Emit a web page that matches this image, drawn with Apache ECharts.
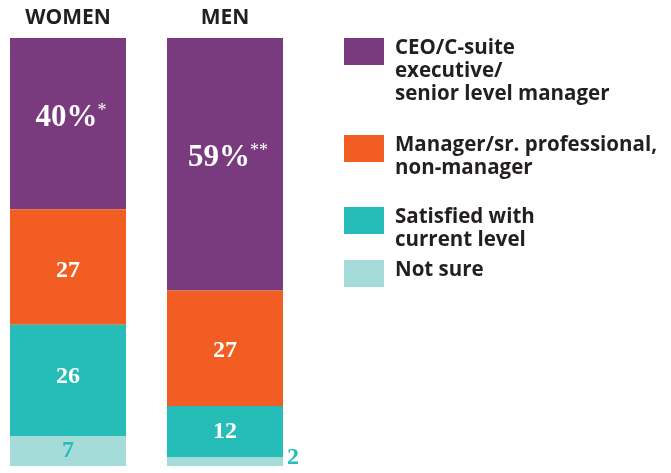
<!DOCTYPE html>
<html>
<head>
<meta charset="utf-8">
<script src="https://cdn.jsdelivr.net/npm/echarts@6/dist/echarts.min.js"></script>
<style>
  html, body { margin: 0; padding: 0; background: #fff; }
  #chart { width: 671px; height: 473px; }
</style>
</head>
<body>
<div id="chart"></div>
<script>
    // data
    var groups = ['WOMEN', 'MEN'];
    var seriesNames = ['CEO/C-suite executive/senior level manager', 'Manager/sr. professional, non-manager', 'Satisfied with current level', 'Not sure'];
    var legendLabels = ['CEO/C-suite\nexecutive/\nsenior level manager', 'Manager/sr. professional,\nnon-manager', 'Satisfied with\ncurrent level', 'Not sure'];
    var ceoValues = [40, 59];
    var managerValues = [27, 27];
    var satisfiedValues = [26, 12];
    var notSureValues = [7, 2];
    var footnoteMarks = ['*', '**'];

    var colors = ['#7a3a7e', '#f15d23', '#26bcb7', '#a5dbd8'];
    var serifFont = '"Liberation Serif", serif';
    var sansFont = '"Open Sans", sans-serif';

    var myChart = echarts.init(document.getElementById('chart'));

    function smallLabel(color) {
        return {
            show: true,
            position: 'inside',
            color: color,
            fontFamily: serifFont,
            fontWeight: 'bold',
            fontSize: 24
        };
    }

    // nudge a label up/down inside its segment
    function withOffset(values, dy) {
        return values.map(function (v, i) {
            return { value: v, label: { offset: [0, dy[i]] } };
        });
    }

    var ceoData = ceoValues.map(function (v, i) {
        return {
            value: v,
            label: {
                formatter: '{a|' + v + '%}{b|' + footnoteMarks[i] + '}'
            }
        };
    });

    var notSureData = notSureValues.map(function (v, i) {
        if (i === 1) {
            // tiny segment: label sits outside, right of the bar
            return { value: v, label: { position: 'right', distance: 4, offset: [0, -4] } };
        }
        return v;
    });

    // legend drawn by hand so the box lines up with the first text line
    var legendTops = [38, 135, 207, 260];
    var legendGraphics = [];
    legendLabels.forEach(function (txt, i) {
        legendGraphics.push({
            type: 'rect',
            left: 344, top: legendTops[i],
            shape: { width: 40, height: 27 },
            style: { fill: colors[i] }
        });
        legendGraphics.push({
            type: 'text',
            left: 395, top: legendTops[i] - 1,
            style: {
                text: txt,
                fill: '#231f20',
                font: 'bold 20.5px ' + sansFont,
                lineHeight: 23
            }
        });
    });

    var option = {
        animation: false,
        // bar centres sit on the grid edges (boundaryGap false)
        grid: { left: 68, top: 38, width: 157, height: 428 },
        xAxis: {
            type: 'category',
            position: 'top',
            boundaryGap: false,
            data: groups,
            axisLine: { show: false },
            axisTick: { show: false },
            axisLabel: {
                margin: 9,
                color: '#231f20',
                fontFamily: sansFont,
                fontWeight: 'bold',
                fontSize: 21
            }
        },
        yAxis: { type: 'value', min: 0, max: 100, inverse: true, show: false },
        graphic: legendGraphics,
        series: [
            {
                name: seriesNames[0], type: 'bar', stack: 'all', barWidth: 116, clip: false,
                itemStyle: { color: colors[0] },
                label: {
                    show: true, position: 'inside', offset: [3, -6],
                    rich: {
                        a: { color: '#fff', fontFamily: serifFont, fontWeight: 'bold', fontSize: 31 },
                        b: { color: '#fff', fontFamily: serifFont, fontSize: 18, verticalAlign: 'top' }
                    }
                },
                data: ceoData
            },
            {
                name: seriesNames[1], type: 'bar', stack: 'all', barWidth: 116, clip: false,
                itemStyle: { color: colors[1] },
                label: smallLabel('#fff'),
                data: withOffset(managerValues, [4, 2])
            },
            {
                name: seriesNames[2], type: 'bar', stack: 'all', barWidth: 116, clip: false,
                itemStyle: { color: colors[2] },
                label: smallLabel('#fff'),
                data: withOffset(satisfiedValues, [-4, 0])
            },
            {
                name: seriesNames[3], type: 'bar', stack: 'all', barWidth: 116, clip: false,
                itemStyle: { color: colors[3] },
                label: smallLabel(colors[2]),
                data: notSureData
            }
        ]
    };

    myChart.setOption(option);
</script>
</body>
</html>
